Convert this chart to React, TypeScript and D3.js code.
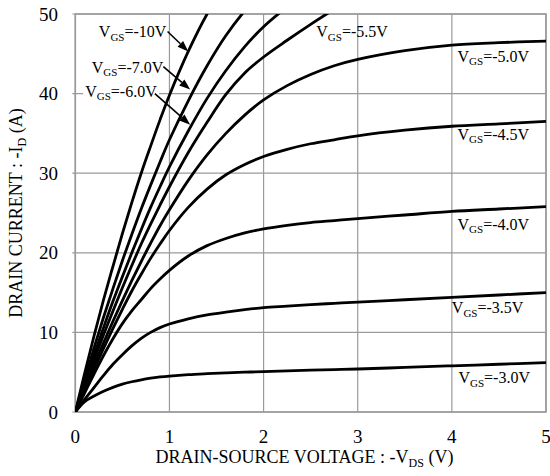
import React from "react";
import * as d3 from "d3";

// Drain-source voltage sample points (V)
const vds = [0, 0.1, 0.2, 0.3, 0.4, 0.5, 0.6, 0.7, 0.8, 0.9, 1.0, 1.2, 1.4, 1.6, 1.8, 2.0, 2.25, 2.5, 2.75, 3.0, 3.5, 4.0, 4.5, 5.0];

// Drain current (A) per gate voltage; null = beyond the chart top
const idVgs10 = [0, 4.9, 9.6, 14.1, 18.3, 22.4, 26.3, 30.0, 33.4, 36.7, 39.8, 45.3, 50.0, 53.8, null, null, null, null, null, null, null, null, null, null];
const idVgs70 = [0, 4.1, 8.1, 11.9, 15.5, 19.0, 22.3, 25.5, 28.5, 31.4, 34.2, 39.1, 43.5, 47.3, 50.4, 53.0, null, null, null, null, null, null, null, null];
const idVgs60 = [0, 3.7, 7.2, 10.6, 13.9, 17.0, 20.0, 22.9, 25.7, 28.3, 30.8, 35.3, 39.4, 42.9, 45.9, 48.4, 50.9, null, null, null, null, null, null, null];
const idVgs55 = [0, 3.4, 6.6, 9.7, 12.7, 15.6, 18.4, 21.1, 23.6, 26.0, 28.3, 32.6, 36.4, 39.9, 42.6, 44.6, 46.7, 48.7, 50.6, null, null, null, null, null];
const idVgs50 = [0, 3.0, 5.9, 8.7, 11.4, 14.0, 16.5, 18.9, 21.2, 23.4, 25.4, 29.1, 32.3, 35.0, 37.3, 39.2, 41.0, 42.4, 43.5, 44.3, 45.4, 46.1, 46.4, 46.6];
const idVgs45 = [0, 2.7, 5.4, 8.0, 10.5, 12.9, 15.2, 17.3, 19.3, 21.1, 22.8, 25.7, 28.0, 29.8, 31.1, 32.1, 33.0, 33.7, 34.2, 34.7, 35.4, 35.9, 36.2, 36.5];
const idVgs40 = [0, 2.4, 4.8, 7.1, 9.2, 11.1, 12.7, 14.1, 15.5, 16.7, 17.8, 19.6, 20.9, 21.8, 22.5, 23.0, 23.45, 23.8, 24.05, 24.3, 24.75, 25.2, 25.5, 25.8];
const idVgs35 = [0, 1.6, 3.1, 4.6, 6.0, 7.2, 8.3, 9.25, 10.0, 10.6, 11.05, 11.7, 12.2, 12.55, 12.85, 13.1, 13.3, 13.5, 13.65, 13.8, 14.1, 14.4, 14.7, 15.0];
const idVgs30 = [0, 1.3, 2.0, 2.6, 3.1, 3.5, 3.8, 4.05, 4.25, 4.4, 4.52, 4.7, 4.82, 4.92, 5.0, 5.08, 5.17, 5.25, 5.32, 5.4, 5.6, 5.8, 6.0, 6.2];

const seriesList = [idVgs10, idVgs70, idVgs60, idVgs55, idVgs50, idVgs45, idVgs40, idVgs35, idVgs30];

const xTicks = [0, 1, 2, 3, 4, 5];
const yTicks = [0, 10, 20, 30, 40, 50];

// Right-side labels: value text and the (V, A) where the label baseline starts
const rightLabels = ["-5.0V", "-4.5V", "-4.0V", "-3.5V", "-3.0V"];
const rightLabelY = [44.0, 34.2, 22.9, 12.4, 3.6];
const rightLabelX = [4.06, 4.06, 4.06, 4.0, 4.07];

// Arrowed labels on the left
const arrowLabels = ["-10V", "-7.0V", "-6.0V"];
const arrowLabelPos = [[0.25, 47.1], [0.175, 42.6], [0.105, 39.6]]; // label start (V, A)
const arrowTail = [[0.98, 47.8], [0.935, 43.4], [0.845, 40.0]];
const arrowTip = [[1.2, 45.3], [1.22, 40.5], [1.22, 36.1]];

const width = 550;
const height = 476;
const plotLeft = 75.3;
const plotRight = 546;
const plotTop = 14;
const plotBottom = 412;

const FONT = "'Liberation Serif', 'Times New Roman', serif";

function VgsLabel({ x, y, value, bg }: { x: number; y: number; value: string; bg?: boolean }) {
  const w = 16 * (0.722 + 0.564 + 0.333) + 14 + (value.length - 1) * 8 + 4;
  return (
    <g>
      {bg && <rect x={x - 2} y={y - 14} width={w} height={20} fill="#fff" />}
      <text x={x} y={y} fontFamily={FONT} fontSize={16} fill="#000">
        <tspan>V</tspan>
        <tspan dy={3.5} fontSize={11}>GS</tspan>
        <tspan dy={-3.5}>={value}</tspan>
      </text>
    </g>
  );
}

export default function App() {
  const x = d3.scaleLinear().domain([0, 5]).range([plotLeft, plotRight]);
  const y = d3.scaleLinear().domain([0, 50]).range([plotBottom, plotTop]);

  const line = d3
    .line<[number, number | null]>()
    .defined((d) => d[1] !== null)
    .x((d) => x(d[0]))
    .y((d) => y(d[1] as number))
    .curve(d3.curveCatmullRom.alpha(0.5));

  return (
    <svg width={width} height={height} style={{ position: "absolute", left: 0, top: 0, background: "#fff" }}>
      <defs>
        <clipPath id="plotClip">
          <rect x={plotLeft} y={plotTop} width={plotRight - plotLeft} height={plotBottom - plotTop} />
        </clipPath>
      </defs>
      <rect x={0} y={0} width={width} height={height} fill="#fff" />
      {/* grid */}
      {xTicks.map((t) => (
        <line key={"gx" + t} x1={x(t)} x2={x(t)} y1={plotTop} y2={plotBottom} stroke="#9a9a9a" strokeWidth={1.2} />
      ))}
      {yTicks.map((t) => (
        <line key={"gy" + t} x1={plotLeft - 3} x2={plotRight} y1={y(t)} y2={y(t)} stroke="#9a9a9a" strokeWidth={1.2} />
      ))}
      <rect x={plotLeft} y={plotTop} width={plotRight - plotLeft} height={plotBottom - plotTop} fill="none" stroke="#9a9a9a" strokeWidth={1.6} />

      {/* curves */}
      <g clipPath="url(#plotClip)">
        {seriesList.map((s, i) => (
          <path
            key={"c" + i}
            d={line(vds.map((v, k) => [v, s[k]] as [number, number | null])) || ""}
            fill="none"
            stroke="#000"
            strokeWidth={2.8}
            strokeLinejoin="round"
          />
        ))}
      </g>

      {/* tick labels */}
      {yTicks.map((t) => (
        <text key={"ty" + t} x={58} y={y(t) + 6.5} textAnchor="end" fontFamily={FONT} fontSize={19} fill="#000">
          {t}
        </text>
      ))}
      {xTicks.map((t) => (
        <text key={"tx" + t} x={x(t)} y={443} textAnchor="middle" fontFamily={FONT} fontSize={19} fill="#000">
          {t}
        </text>
      ))}

      {/* axis titles */}
      <text x={304.5} y={463} textAnchor="middle" fontFamily={FONT} fontSize={18} fill="#000">
        <tspan>DRAIN-SOURCE VOLTAGE : -V</tspan>
        <tspan dy={4} fontSize={12}>DS</tspan>
        <tspan dy={-4}> (V)</tspan>
      </text>
      <text transform={`translate(22,${(plotTop + plotBottom) / 2}) rotate(-90)`} textAnchor="middle" fontFamily={FONT} fontSize={18} fill="#000">
        <tspan>DRAIN CURRENT : -I</tspan>
        <tspan dy={4} fontSize={12}>D</tspan>
        <tspan dy={-4}> (A)</tspan>
      </text>

      {/* arrowed labels */}
      {arrowLabels.map((lab, i) => {
        const lx = x(arrowLabelPos[i][0]);
        const ly = y(arrowLabelPos[i][1]);
        const tx = x(arrowTail[i][0]);
        const ty = y(arrowTail[i][1]);
        const hx = x(arrowTip[i][0]);
        const hy = y(arrowTip[i][1]);
        const ang = Math.atan2(hy - ty, hx - tx);
        const L = 11;
        const W = 4;
        const bx = hx - L * Math.cos(ang);
        const by = hy - L * Math.sin(ang);
        const p1 = [bx + W * Math.sin(ang), by - W * Math.cos(ang)];
        const p2 = [bx - W * Math.sin(ang), by + W * Math.cos(ang)];
        return (
          <g key={"al" + i}>
            <VgsLabel x={lx} y={ly} value={"-" + lab.slice(1)} bg />
            <line x1={tx} y1={ty} x2={bx} y2={by} stroke="#000" strokeWidth={1.6} />
            <path d={`M${hx},${hy}L${p1[0]},${p1[1]}L${p2[0]},${p2[1]}Z`} fill="#000" />
          </g>
        );
      })}

      {/* -5.5 label */}
      <VgsLabel x={x(2.56)} y={y(47.1)} value="-5.5V" />

      {/* right labels */}
      {rightLabels.map((lab, i) => (
        <VgsLabel key={"rl" + i} x={x(rightLabelX[i])} y={y(rightLabelY[i])} value={lab} />
      ))}
    </svg>
  );
}
